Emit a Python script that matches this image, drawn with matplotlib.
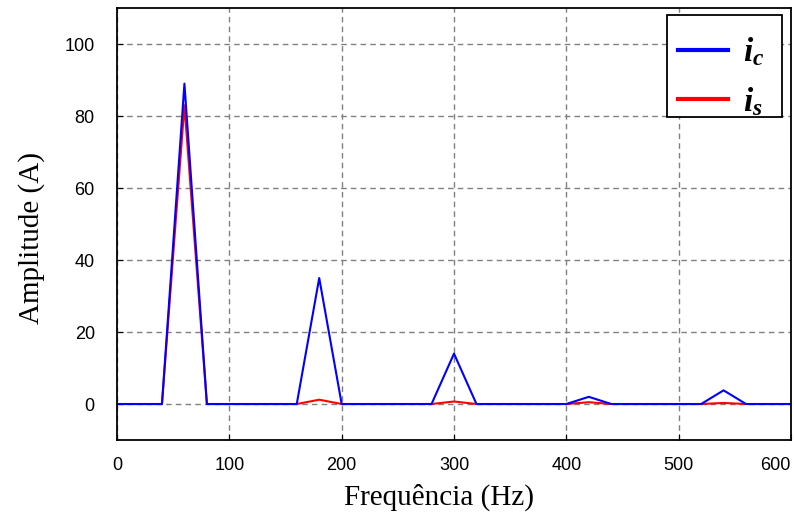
import matplotlib.pyplot as plt
import matplotlib.patches as patches
import numpy as np

plt.rcParams['mathtext.fontset'] = 'custom'
plt.rcParams['mathtext.it'] = 'Liberation Serif:bold:italic'
plt.rcParams['mathtext.rm'] = 'Liberation Serif:bold'

# Spectrum points (Hz, A)
freq = [0, 40, 60, 80, 160, 180, 200, 280, 300, 320, 400, 420, 440, 520, 540, 560, 600]
amp_ic = [0, 0, 89, 0, 0, 35, 0, 0, 14, 0, 0, 2.0, 0, 0, 3.8, 0, 0]
amp_is = [0, 0, 83, 0, 0, 1.2, 0, 0, 0.7, 0, 0, 0.5, 0, 0, 0.3, 0, 0]

xticks = [0, 100, 200, 300, 400, 500, 600]
yticks = [0, 20, 40, 60, 80, 100]

fig = plt.figure(figsize=(7.94, 5.2), dpi=100)
ax = fig.add_axes([0.1474, 0.1538, 0.8488, 0.8308])

l_is, = ax.plot(freq, amp_is, color='#ff0000', linewidth=1.5)
l_ic, = ax.plot(freq, amp_ic, color='#0000ff', linewidth=1.5)

ax.set_xlim(0, 600)
ax.set_ylim(-10, 110)
ax.set_xticks(xticks)
ax.set_yticks(yticks)
ax.grid(True, linestyle=(0, (4, 3)), color='#808080', linewidth=1.0)
ax.tick_params(direction='in', length=4, labelsize=13)
ax.tick_params(axis='x', pad=12)
ax.tick_params(axis='y', pad=16)
for lab in ax.get_xticklabels() + ax.get_yticklabels():
    lab.set_family('Liberation Sans')
ax.get_xticklabels()[-1].set_horizontalalignment('right')

for s in ax.spines.values():
    s.set_linewidth(1.3)

ax.set_xlabel('Frequência (Hz)', family='Liberation Serif', fontsize=21, labelpad=4)
ax.set_ylabel('Amplitude (A)', family='Liberation Serif', fontsize=21, labelpad=14)
ax.xaxis.set_label_coords(0.478, -0.1, transform=ax.transAxes)
ax.yaxis.label.set_y(0.468)

# legend box drawn separately, entries placed inside it
box = patches.Rectangle((0.816, 0.7477), 0.1706, 0.2361, transform=ax.transAxes,
                        facecolor='white', edgecolor='black', linewidth=1.3, zorder=5)
ax.add_patch(box)
leg = ax.legend([l_ic, l_is], ['$i_c$', '$i_s$'], loc='center left',
                bbox_to_anchor=(0.8323, 0.8414), borderaxespad=0, borderpad=0,
                frameon=False, handlelength=1.5, handletextpad=0.45,
                labelspacing=0.5, fontsize=24)
leg.set_zorder(6)
for line in leg.get_lines():
    line.set_linewidth(3)

fig.savefig('out.png', dpi=100)
